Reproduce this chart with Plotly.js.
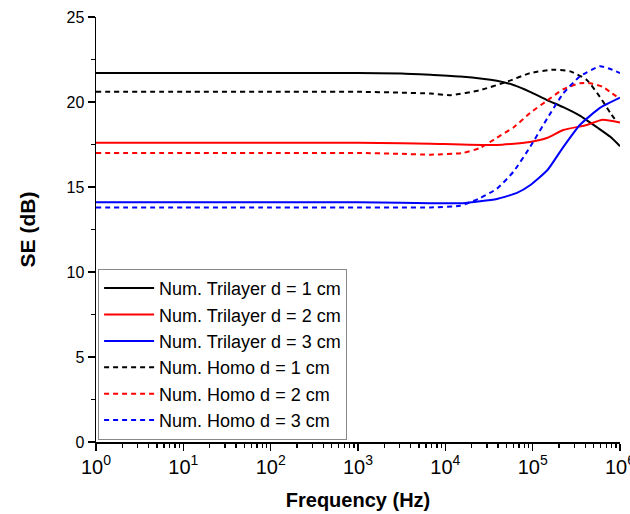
<!DOCTYPE html>
<html>
<head>
<meta charset="utf-8">
<script src="https://cdn.plot.ly/plotly-3.0.1.min.js"></script>
<style>html,body{margin:0;padding:0;background:#fff;}#chart{width:630px;height:514px;}</style>
</head>
<body>
<div id="chart"></div>
<script>
// log10 of frequency (Hz) sample points, SE in dB
const triD1LogF = [0, 1, 2, 3, 3.5, 3.83, 4.17, 4.59, 4.78, 4.97, 5.17, 5.35, 5.54, 5.74, 5.89, 6.0];
const triD1SE   = [21.7, 21.7, 21.7, 21.7, 21.68, 21.6, 21.5, 21.25, 21.0, 20.6, 20.1, 19.7, 19.2, 18.5, 17.95, 17.4];

const triD2LogF = [0, 1, 2, 3, 3.5, 3.83, 4.59, 4.97, 5.17, 5.35, 5.62, 5.8, 6.0];
const triD2SE   = [17.6, 17.6, 17.6, 17.6, 17.58, 17.55, 17.47, 17.65, 17.9, 18.35, 18.65, 18.95, 18.8];

const triD3LogF = [0, 1, 2, 3, 3.5, 3.83, 4.2, 4.59, 4.82, 4.97, 5.17, 5.35, 5.54, 5.77, 6.0];
const triD3SE   = [14.1, 14.1, 14.1, 14.1, 14.08, 14.05, 14.05, 14.3, 14.65, 15.1, 16.0, 17.35, 18.65, 19.65, 20.25];

const homD1LogF = [0, 1, 2, 3, 3.5, 3.83, 4.06, 4.4, 4.71, 4.97, 5.24, 5.43, 5.62, 5.77, 5.89, 5.97];
const homD1SE   = [20.6, 20.6, 20.6, 20.6, 20.55, 20.5, 20.4, 20.7, 21.2, 21.7, 21.9, 21.8, 21.3, 20.3, 19.35, 18.8];

const homD2LogF = [0, 1, 2, 3, 3.5, 3.83, 4.2, 4.4, 4.59, 4.78, 4.97, 5.17, 5.35, 5.54, 5.66, 5.8, 5.91, 6.0];
const homD2SE   = [17.0, 17.0, 17.0, 17.0, 16.95, 16.9, 17.0, 17.3, 17.9, 18.5, 19.35, 20.1, 20.75, 21.1, 21.1, 20.9, 20.5, 20.2];

const homD3LogF = [0, 1, 2, 3, 3.5, 3.83, 4.17, 4.4, 4.59, 4.78, 4.97, 5.17, 5.35, 5.54, 5.77, 5.91, 6.0];
const homD3SE   = [13.8, 13.8, 13.8, 13.8, 13.8, 13.8, 13.9, 14.35, 14.9, 15.9, 17.35, 19.06, 20.5, 21.5, 22.1, 21.9, 21.7];

const seriesNames = [
  "Num. Trilayer d = 1 cm", "Num. Trilayer d = 2 cm", "Num. Trilayer d = 3 cm",
  "Num. Homo d = 1 cm", "Num. Homo d = 2 cm", "Num. Homo d = 3 cm"
];
// tick label aliases for the first two decades (others come out as 10^n from 'power' format)
const xLabelAlias = {"1": "10<sup>0</sup>", "10": "10<sup>1</sup>"};
const yTickVals = [0, 5, 10, 15, 20, 25];

const toHz = a => a.map(v => Math.pow(10, v));
const colors = ["#000000", "#ff0000", "#0000ff", "#000000", "#ff0000", "#0000ff"];
const xs = [triD1LogF, triD2LogF, triD3LogF, homD1LogF, homD2LogF, homD3LogF];
const ys = [triD1SE, triD2SE, triD3SE, homD1SE, homD2SE, homD3SE];

const traces = xs.map((x, i) => ({
  x: toHz(x), y: ys[i], name: seriesNames[i], mode: "lines",
  line: {color: colors[i], width: 2, shape: "spline", smoothing: 0.5, dash: i < 3 ? "solid" : "5px,4px"}
}));

const layout = {
  width: 630, height: 514,
  margin: {l: 96, r: 10, t: 17, b: 72},
  paper_bgcolor: "#fff", plot_bgcolor: "#fff",
  font: {family: "Arial, Liberation Sans, sans-serif", color: "#000"},
  showlegend: true,
  legend: {
    x: 0.004, y: 0.005, xanchor: "left", yanchor: "bottom",
    bgcolor: "#fff", bordercolor: "#888", borderwidth: 1,
    font: {size: 18, color: "#000"}, tracegroupgap: 0, itemwidth: 50
  },
  xaxis: {
    type: "log", range: [0, 6],
    tickmode: "linear", tick0: 0, dtick: 1, exponentformat: "power",
    labelalias: xLabelAlias,
    ticks: "outside", ticklen: 7, tickwidth: 1.5, tickcolor: "#000",
    showline: true, linecolor: "#000", linewidth: 1.5,
    showgrid: false, zeroline: false, ticklabeloverflow: "allow",
    tickfont: {size: 16},
    minor: {ticks: "outside", ticklen: 4, tickwidth: 1.3, tickcolor: "#000", tickmode: "linear", dtick: "D1", showgrid: false},
    title: {text: "<b>Frequency (Hz)</b>", font: {size: 20}, standoff: 16}
  },
  yaxis: {
    range: [0, 25], tickmode: "array", tickvals: yTickVals,
    ticks: "outside", ticklen: 7, tickwidth: 1.5, tickcolor: "#000",
    showline: true, linecolor: "#000", linewidth: 1.5,
    showgrid: false, zeroline: false,
    tickfont: {size: 16},
    minor: {ticks: "outside", ticklen: 4, tickwidth: 1.3, tickcolor: "#000", dtick: 2.5, showgrid: false},
    title: {text: "<b>SE (dB)</b>", font: {size: 21}, standoff: 25}
  }
};

Plotly.newPlot("chart", traces, layout, {displayModeBar: false, staticPlot: true});
</script>
</body>
</html>
